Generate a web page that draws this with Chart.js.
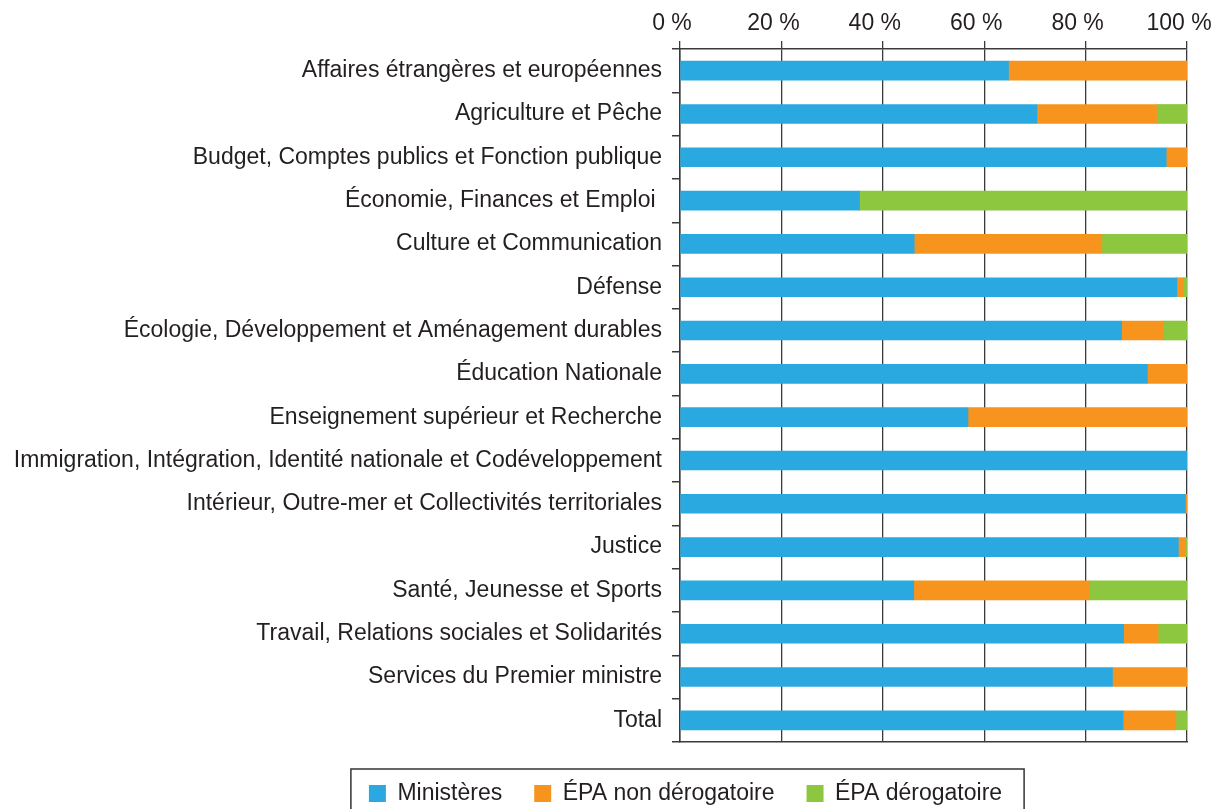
<!DOCTYPE html>
<html>
<head>
<meta charset="utf-8">
<script src="https://cdn.jsdelivr.net/npm/chart.js@4"></script>
<style>
  body { margin: 0; background: #fff; }
  canvas { display: block; }
</style>
</head>
<body>
<canvas id="c-chart-bar" width="1212" height="809"></canvas>
<script>
var categories = [
  'Affaires étrangères et européennes',
  'Agriculture et Pêche',
  'Budget, Comptes publics et Fonction publique',
  'Économie, Finances et Emploi ',
  'Culture et Communication',
  'Défense',
  'Écologie, Développement et Aménagement durables',
  'Éducation Nationale',
  'Enseignement supérieur et Recherche',
  'Immigration, Intégration, Identité nationale et Codéveloppement',
  'Intérieur, Outre-mer et Collectivités territoriales',
  'Justice',
  'Santé, Jeunesse et Sports',
  'Travail, Relations sociales et Solidarités',
  'Services du Premier ministre',
  'Total'
]
var ministeres = [64.8, 70.4, 95.9, 35.4, 46.2, 98.0, 87.1, 92.2, 56.8, 100, 99.7, 98.3, 46.1, 87.5, 85.3, 87.4]
var epaNonDerog = [35.2, 23.6, 4.1, 0, 37.0, 1.3, 8.2, 7.8, 43.2, 0, 0.3, 1.4, 34.7, 6.8, 14.7, 10.4]
var epaDerog = [0, 6.0, 0, 64.6, 16.8, 0.7, 4.7, 0, 0, 0, 0, 0.3, 19.2, 5.7, 0, 2.2]
var seriesNames = ['Ministères', 'ÉPA non dérogatoire', 'ÉPA dérogatoire']
var xTicks = [0, 20, 40, 60, 80, 100]

var colors = { blue: '#29a9e0', orange: '#f7941e', green: '#8dc63f' }
var ink = '#231f20'
var lineCol = '#3a3a3a'
var legendShift = 92

Chart.defaults.font.family = '"Liberation Sans", Arial, sans-serif'
Chart.defaults.font.size = 23
Chart.defaults.color = ink

// legend sits under the labels+bars block, not the page centre, and has a frame
var legendFrame = {
  id: 'legendFrame',
  afterLayout: function(chart) {
    chart.legend.left += legendShift
    chart.legend.right += legendShift
  },
  afterDraw: function(chart) {
    var boxes = chart.legend.legendHitBoxes
    if (!boxes || !boxes.length) return
    var first = boxes[0]
    var last = boxes[boxes.length - 1]
    var ctx = chart.ctx
    ctx.save()
    ctx.strokeStyle = '#333'
    ctx.lineWidth = 1.5
    var left = first.left - 18
    var right = last.left + last.width + 22
    var top = first.top - 13
    ctx.strokeRect(left, top, right - left, 60)
    ctx.restore()
  }
}

var config = {
  type: 'bar',
  data: {
    labels: categories,
    datasets: [
      { label: seriesNames[0], data: ministeres, backgroundColor: colors.blue },
      { label: seriesNames[1], data: epaNonDerog, backgroundColor: colors.orange },
      { label: seriesNames[2], data: epaDerog, backgroundColor: colors.green }
    ]
  },
  options: {
    indexAxis: 'y',
    responsive: false,
    animation: false,
    layout: { padding: { left: 0, right: 25, top: 0, bottom: -6 } },
    datasets: { bar: { barThickness: 19, borderWidth: 0 } },
    scales: {
      x: {
        position: 'top',
        stacked: true,
        min: 0,
        max: 100,
        afterBuildTicks: function(scale) {
          scale.ticks = xTicks.map(function(v) { return { value: v } })
        },
        ticks: {
          padding: 4,
          labelOffset: -8,
          maxRotation: 0,
          callback: function(v) { return v + ' %' }
        },
        grid: { color: lineCol, lineWidth: 1.3, tickLength: 8 },
        border: { color: lineCol, width: 1.5 },
        afterFit: function(scale) {
          scale.height = 49
          scale.paddingLeft = 0
          scale.paddingRight = 0
        }
      },
      x2: {
        position: 'bottom',
        display: true,
        ticks: { display: false },
        grid: { display: false },
        border: { color: lineCol, width: 1.5 },
        afterFit: function(scale) {
          scale.height = 8
          scale.paddingLeft = 0
          scale.paddingRight = 0
        }
      },
      y: {
        stacked: true,
        ticks: { padding: 10, autoSkip: false },
        grid: { drawOnChartArea: false, color: lineCol, lineWidth: 1.5, tickLength: 8 },
        border: { color: lineCol, width: 1.5 },
        afterFit: function(scale) {
          scale.width = 680
          scale.paddingTop = 0
          scale.paddingBottom = 0
        }
      }
    },
    plugins: {
      tooltip: { enabled: false },
      legend: {
        position: 'bottom',
        labels: { boxWidth: 17, boxHeight: 17, padding: 32, color: ink }
      }
    }
  },
  plugins: [legendFrame]
}

var ctx = document.getElementById('c-chart-bar').getContext('2d')
new Chart(ctx, config)
</script>
</body>
</html>
